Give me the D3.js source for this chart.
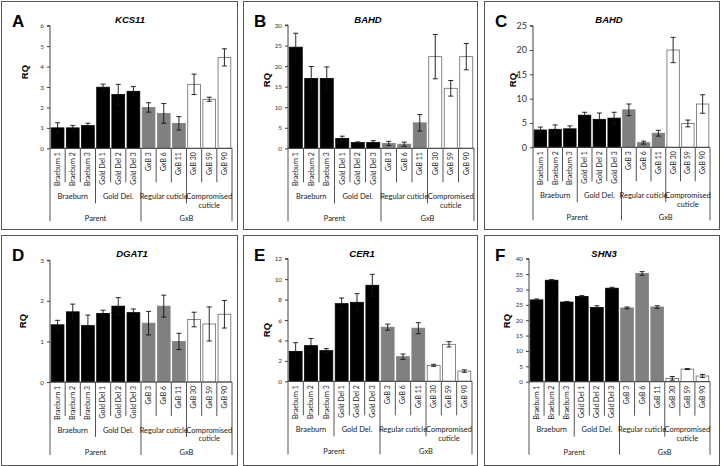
<!DOCTYPE html>
<html><head><meta charset="utf-8">
<script src="https://cdn.jsdelivr.net/npm/d3@7"></script>
<style>body{margin:0;background:#fff}svg{display:block}</style>
</head><body><svg id="c" width="721" height="466"></svg>
<script>
// ---------- DATA ----------
const categories = ["Braeburn 1","Braeburn 2","Braeburn 3","Gold Del 1","Gold Del 2","Gold Del 3","GxB 3","GxB 6","GxB 11","GxB 30","GxB 59","GxB 90"];
const subGroups = ["Braeburn","Gold Del.","Regular cuticle","Compromised cuticle"];
const subGroupSize = [3,3,3,3];
const topGroups = ["Parent","GxB"];
const topGroupSize = [6,6];
const panelLetters = ["A","B","C","D","E","F"];
const geneTitles = ["KCS11","BAHD","BAHD","DGAT1","CER1","SHN3"];
const yMaxima = [6,30,25,3,12,40];
const yTickSteps = [1,5,5,1,2,5];

const kcs11     = [1.0,1.0,1.11,2.99,2.63,2.79,2.0,1.71,1.22,3.13,2.4,4.45];
const kcs11Err  = [0.25,0.12,0.12,0.15,0.5,0.23,0.23,0.48,0.33,0.5,0.1,0.42];
const bahdB     = [24.6,17.0,17.0,2.4,1.4,1.4,1.2,1.0,6.2,22.3,14.6,22.3];
const bahdBErr  = [3.4,2.9,2.8,0.55,0.15,0.45,0.5,0.5,2.0,5.4,1.9,3.2];
const bahdC     = [3.56,3.7,3.8,6.6,5.75,6.0,7.7,0.95,2.9,20.0,4.9,8.9];
const bahdCErr  = [0.6,0.9,0.6,0.6,1.3,1.2,1.2,0.3,0.6,2.6,0.7,1.9];
const dgat1     = [1.41,1.73,1.39,1.69,1.87,1.71,1.45,1.87,1.0,1.54,1.43,1.67];
const dgat1Err  = [0.11,0.19,0.26,0.08,0.21,0.09,0.29,0.27,0.2,0.18,0.42,0.34];
const cer1      = [2.93,3.49,3.0,7.6,7.73,9.4,5.3,2.41,5.2,1.56,3.62,1.0];
const cer1Err   = [0.85,0.7,0.2,0.55,0.85,1.07,0.3,0.26,0.54,0.1,0.26,0.12];
const shn3      = [26.6,33.0,25.9,27.7,24.1,30.4,24.0,35.2,24.3,1.1,4.1,1.85];
const shn3Err   = [0.3,0.2,0.2,0.3,0.6,0.3,0.3,0.6,0.4,0.6,0.15,0.5];

const seriesValues = [kcs11,bahdB,bahdC,dgat1,cer1,shn3];
const seriesErrors = [kcs11Err,bahdBErr,bahdCErr,dgat1Err,cer1Err,shn3Err];

// ---------- LAYOUT ----------
const boxes = [[1,1,236,228],[243,1,234,228],[484,1,235,228],[1,235,236,230],[243,235,234,230],[484,235,235,230]];
const axisX   = [49,45,49,49,45,45];
const plotR   = [231,231,226,231,229,226];
const yTopRel = [24.7,24,24.7,25.3,23.7,23.7];
const yZeroRel= [147.3,147.3,146.3,147,146.3,146.7];
const rqPos   = [[24,71],[24,79],[29,79],[22,86],[24,95],[23,86]];
const titleX  = [129,125,125,131,119,120];
const tickFont= [6.3,6.3,9,6.3,6.3,6.3];

const svg = d3.select("#c");
const fillFor = i => i < 6 ? "#000" : (i < 9 ? "#808080" : "#fff");
const strokeFor = i => i < 6 ? "#000" : (i < 9 ? "#808080" : "#6a6a6a");
const txtCol = "#1a1a1a";

seriesValues.forEach((vals, p) => {
  const [bx,by,bw,bh] = boxes[p];
  const g = svg.append("g").attr("transform",`translate(${bx},${by})`);
  g.append("rect").attr("x",0.5).attr("y",0.5).attr("width",bw).attr("height",bh)
    .attr("fill","#fff").attr("stroke","#555").attr("stroke-width",1);

  g.append("text").attr("x",11).attr("y",26).text(panelLetters[p])
    .attr("font-family","Liberation Sans, Arial, sans-serif").attr("font-weight","bold").attr("font-size",17);
  g.append("text").attr("x",titleX[p]).attr("y",22).attr("text-anchor","middle").text(geneTitles[p])
    .attr("font-family","Liberation Sans, Arial, sans-serif").attr("font-weight","bold").attr("font-style","italic").attr("font-size",9.5);
  g.append("text").attr("transform",`translate(${rqPos[p][0]+3},${rqPos[p][1]}) rotate(-90)`).attr("text-anchor","middle")
    .text("RQ").attr("font-family","Liberation Sans, Arial, sans-serif").attr("font-weight","bold").attr("font-size",9.5);

  const x = d3.scaleBand().domain(categories).range([axisX[p], plotR[p]]).paddingInner(0.16).paddingOuter(0.08);
  const y = d3.scaleLinear().domain([0, yMaxima[p]]).range([yZeroRel[p], yTopRel[p]]);
  const step = x.step();
  const x0 = axisX[p];
  const y0 = yZeroRel[p];

  // y axis
  const yAxis = d3.axisLeft(y).tickValues(d3.range(0, yMaxima[p]+0.001, yTickSteps[p])).tickSize(3).tickPadding(3).tickFormat(d3.format("d"));
  const ya = g.append("g").attr("transform",`translate(${x0},0)`).call(yAxis);
  ya.select(".domain").attr("stroke","#404040").attr("d",`M-3,${y.range()[1]}H0V${y0}`);
  ya.selectAll(".tick line").attr("stroke","#404040");
  ya.selectAll("text").attr("font-family","Lato, sans-serif").attr("font-size",tickFont[p]).attr("fill","#333");

  // bars
  g.selectAll(".bar").data(vals).join("rect")
    .attr("x",(d,i)=>x(categories[i])).attr("width",x.bandwidth())
    .attr("y",d=>y(d)).attr("height",d=>y0-y(d))
    .attr("fill",(d,i)=>fillFor(i)).attr("stroke",(d,i)=>strokeFor(i)).attr("stroke-width",0.8);

  // error bars
  const errs = seriesErrors[p];
  const eg = g.append("g").attr("stroke","#111").attr("stroke-width",0.9).attr("fill","none");
  vals.forEach((v,i)=>{
    const cx = x(categories[i]) + x.bandwidth()/2;
    const t = y(v+errs[i]), b = y(Math.max(0,v-errs[i]));
    eg.append("path").attr("d",`M${cx},${t}V${b}M${cx-2.5},${t}H${cx+2.5}M${cx-2.5},${b}H${cx+2.5}`);
  });

  // x axis line
  g.append("line").attr("x1",x0).attr("x2",plotR[p]).attr("y1",y0).attr("y2",y0).attr("stroke","#404040");

  // separators at band boundaries
  const bounds = d3.range(categories.length+1).map(i => x0 + i*step);
  const subEnds = d3.cumsum(subGroupSize);
  const topEnds = d3.cumsum(topGroupSize);
  bounds.forEach((bxp,i)=>{
    let len = 34;
    if (i===0 || topEnds.includes(i)) len = 73;
    else if (subEnds.includes(i)) len = 55;
    g.append("line").attr("x1",bxp).attr("x2",bxp).attr("y1",y0).attr("y2",y0+len).attr("stroke","#404040").attr("stroke-width",0.9);
  });

  // category labels
  categories.forEach((c,i)=>{
    const cx = x(categories[i]) + x.bandwidth()/2;
    g.append("text").attr("transform",`translate(${cx+2.4},${y0+4}) rotate(-90)`).attr("text-anchor","end")
      .text(c).attr("font-family","Lato, sans-serif").attr("font-size",6.9).attr("fill",txtCol);
  });

  // subgroup labels
  let start = 0;
  subGroups.forEach((s,gi)=>{
    const n = subGroupSize[gi];
    const cx = x0 + (start + n/2)*step;
    const span = n*step;
    const t = g.append("text").attr("x",cx).attr("y",y0+50.5).attr("text-anchor","middle")
      .attr("font-family","Lato, sans-serif").attr("font-size",7.5).attr("fill",txtCol).text(s);
    if (t.node().getComputedTextLength() > span + 12) {
      const words = s.split(" ");
      t.text(null);
      t.append("tspan").attr("x",cx).attr("dy",0).text(words.slice(0,-1).join(" "));
      t.append("tspan").attr("x",cx).attr("dy",8.8).text(words[words.length-1]);
    }
    start += n;
  });
  start = 0;
  topGroups.forEach((s,gi)=>{
    const n = topGroupSize[gi];
    const cx = x0 + (start + n/2)*step;
    g.append("text").attr("x",cx).attr("y",y0+73).attr("text-anchor","middle")
      .attr("font-family","Lato, sans-serif").attr("font-size",7.5).attr("fill",txtCol).text(s);
    start += n;
  });
});
</script></body></html>
